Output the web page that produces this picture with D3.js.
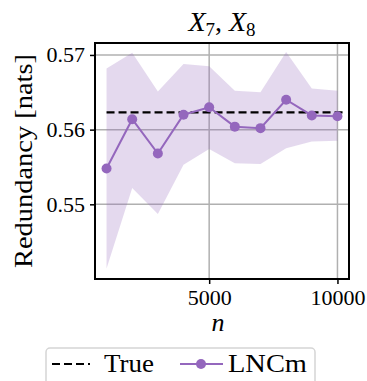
<!DOCTYPE html>
<html>
<head>
<meta charset="utf-8">
<script src="https://cdn.jsdelivr.net/npm/d3@7"></script>
<style>
  svg text { font-family: "Liberation Serif", "Times New Roman", serif !important; }
</style>
</head>
<body style="margin:0; background:#fff">
<svg width="367" height="381"></svg>
<script>
// sample sizes and LNCm estimates
const nValues = [1000, 2000, 3000, 4000, 5000, 6000, 7000, 8000, 9000, 10000];
const lncmMean = [0.5548, 0.5614, 0.5568, 0.5620, 0.5630, 0.5604, 0.5602, 0.5640, 0.5619, 0.5618];
const lncmUpper = [0.5682, 0.5703, 0.5651, 0.5688, 0.5685, 0.5652, 0.5650, 0.5704, 0.5655, 0.5652];
const lncmLower = [0.5414, 0.5522, 0.5487, 0.5553, 0.5574, 0.5555, 0.5554, 0.5575, 0.5584, 0.5585];
const trueValue = 0.5623;
const trueSpan = [1000, 10350];
const xTicks = [5000, 10000];
const yTicks = [0.55, 0.56, 0.57];

const margin = { top: 43, right: 18, bottom: 102, left: 95 };
const width = 367 - margin.left - margin.right;
const height = 381 - margin.top - margin.bottom;
const purple = "#9467bd";
const serifFamily = '"Liberation Serif", "Times New Roman", serif';

const svg = d3.select("svg");
const g = svg.append("g")
  .attr("transform", `translate(${margin.left},${margin.top})`);

const x = d3.scaleLinear().domain([550, 10450]).range([0, width]);
const y = d3.scaleLinear().domain([0.5400, 0.5716]).range([height, 0]);

// grid
g.selectAll(".grid-x")
  .data(xTicks)
  .enter().append("line")
  .attr("x1", d => x(d)).attr("x2", d => x(d))
  .attr("y1", 0).attr("y2", height)
  .style("stroke", "#b0b0b0").style("stroke-width", 1.5);

g.selectAll(".grid-y")
  .data(yTicks)
  .enter().append("line")
  .attr("x1", 0).attr("x2", width)
  .attr("y1", d => y(d)).attr("y2", d => y(d))
  .style("stroke", "#b0b0b0").style("stroke-width", 1.5);

// band
const band = nValues.map((n, i) => ({ n, lo: lncmLower[i], hi: lncmUpper[i] }));
g.append("path")
  .datum(band)
  .attr("fill", purple)
  .attr("fill-opacity", 0.25)
  .attr("d", d3.area().x(d => x(d.n)).y0(d => y(d.lo)).y1(d => y(d.hi)));

// true line
g.append("line")
  .attr("x1", x(trueSpan[0])).attr("x2", x(trueSpan[1]))
  .attr("y1", y(trueValue)).attr("y2", y(trueValue))
  .style("stroke", "#000").style("stroke-width", 2.2)
  .style("stroke-dasharray", "8,4");

// LNCm line
const pts = nValues.map((n, i) => ({ n, v: lncmMean[i] }));
g.append("path")
  .datum(pts)
  .attr("fill", "none")
  .attr("stroke", purple)
  .attr("stroke-width", 2)
  .attr("d", d3.line().x(d => x(d.n)).y(d => y(d.v)));

g.selectAll(".dot")
  .data(pts)
  .enter().append("circle")
  .attr("cx", d => x(d.n)).attr("cy", d => y(d.v))
  .attr("r", 5)
  .attr("fill", purple);

// axes
const xAxis = g.append("g")
  .attr("transform", `translate(0,${height})`)
  .call(d3.axisBottom(x).tickValues(xTicks).tickSize(5).tickPadding(5).tickFormat(d3.format("d")));
const yAxis = g.append("g")
  .call(d3.axisLeft(y).tickValues(yTicks).tickSize(5).tickPadding(5).tickFormat(d3.format(".2f")));
[xAxis, yAxis].forEach(a => {
  a.attr("font-family", serifFamily).attr("font-size", 22);
  a.select(".domain").remove();
  a.selectAll("line").style("stroke", "#000").style("stroke-width", 1.5);
  a.selectAll("text")
    .style("font-family", serifFamily, "important")
    .style("font-size", "22px")
    .style("fill", "#000");
});

g.append("rect")
  .attr("width", width).attr("height", height)
  .attr("fill", "none").attr("stroke", "#000").attr("stroke-width", 2);

// title
const title = svg.append("text")
  .attr("x", margin.left + width / 2)
  .attr("y", 31)
  .attr("text-anchor", "middle")
  .style("font-family", serifFamily, "important")
  .style("font-size", "28px");
title.append("tspan").style("font-style", "italic").text("X");
title.append("tspan").attr("dy", 5).style("font-size", "19px").text("7");
title.append("tspan").attr("dy", -5).text(", ");
title.append("tspan").style("font-style", "italic").text("X");
title.append("tspan").attr("dy", 5).style("font-size", "19px").text("8");

// axis labels
svg.append("text")
  .attr("x", margin.left + width / 2 - 4)
  .attr("y", 331)
  .attr("text-anchor", "middle")
  .style("font-family", serifFamily, "important")
  .style("font-style", "italic")
  .style("font-size", "26px")
  .text("n");

svg.append("text")
  .attr("transform", `translate(32,${margin.top + height / 2}) rotate(-90)`)
  .attr("text-anchor", "middle")
  .attr("textLength", 214)
  .attr("lengthAdjust", "spacingAndGlyphs")
  .style("font-family", serifFamily, "important")
  .style("font-size", "25px")
  .text("Redundancy [nats]");

// legend
const legend = svg.append("g").attr("transform", "translate(46,348)");
legend.append("rect")
  .attr("width", 269).attr("height", 45)
  .attr("rx", 4)
  .attr("fill", "#fff").attr("stroke", "#d5d5d5").attr("stroke-width", 1.5);
legend.append("line")
  .attr("x1", 6).attr("x2", 44).attr("y1", 16).attr("y2", 16)
  .style("stroke", "#000").style("stroke-width", 2.2).style("stroke-dasharray", "8,4");
legend.append("text").attr("x", 58).attr("y", 24)
  .attr("textLength", 50).attr("lengthAdjust", "spacingAndGlyphs")
  .style("font-family", serifFamily, "important")
  .style("font-size", "25px").text("True");
legend.append("line")
  .attr("x1", 134).attr("x2", 177).attr("y1", 16).attr("y2", 16)
  .style("stroke", purple).style("stroke-width", 2);
legend.append("circle").attr("cx", 155).attr("cy", 16).attr("r", 5).attr("fill", purple);
legend.append("text").attr("x", 182).attr("y", 24)
  .attr("textLength", 79).attr("lengthAdjust", "spacingAndGlyphs")
  .style("font-family", serifFamily, "important")
  .style("font-size", "25px").text("LNCm");
</script>
</body>
</html>
